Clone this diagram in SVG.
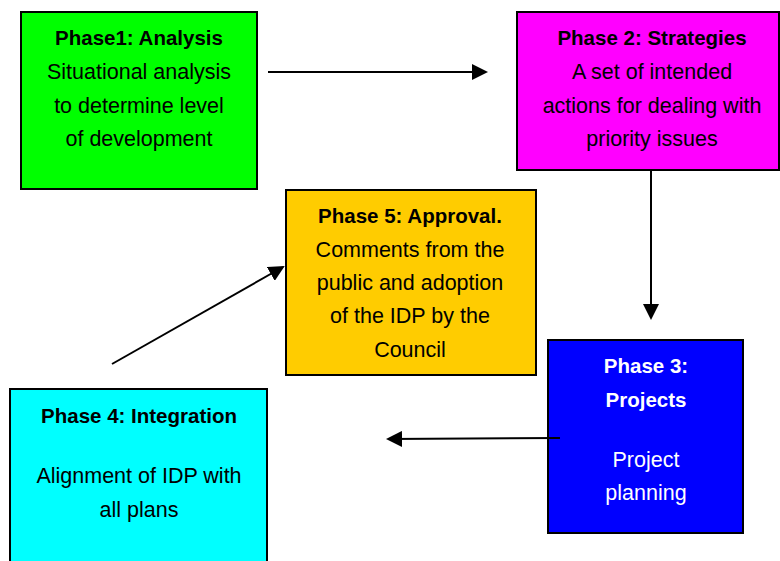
<svg xmlns="http://www.w3.org/2000/svg" width="780" height="561" viewBox="0 0 780 561">
<defs>
<style>
.box{stroke:#000;stroke-width:2}
text{font-family:"Liberation Sans",Arial,sans-serif;font-size:21.5px;text-anchor:middle;fill:#000}
.b{font-weight:bold;font-size:20.5px}
.w{fill:#fff}
.c{stroke:#000;stroke-width:2;fill:none;marker-end:url(#ah)}
</style>
<marker id="ah" markerWidth="8" markerHeight="8" refX="7" refY="4" orient="auto" markerUnits="strokeWidth">
<path d="M0,0 L8,4 L0,8 Z" fill="#000"/>
</marker>
</defs>
<rect width="780" height="561" fill="#fff"/>
<g id="phase1">
<rect class="box" x="21" y="12" width="236" height="177" fill="#00FF00"/>
<text class="b" x="139" y="45">Phase1: Analysis</text>
<text x="139" y="79">Situational analysis</text>
<text x="139" y="113">to determine level</text>
<text x="139" y="146">of development</text>
</g>
<g id="phase2">
<rect class="box" x="517" y="12" width="262" height="158" fill="#FF00FF"/>
<text class="b" x="652" y="45">Phase 2: Strategies</text>
<text x="652" y="79">A set of intended</text>
<text x="652" y="113">actions for dealing with</text>
<text x="652" y="146">priority issues</text>
</g>
<g id="phase5">
<rect class="box" x="286" y="190" width="250" height="185" fill="#FFCC00"/>
<text class="b" x="410" y="223">Phase 5: Approval.</text>
<text x="410" y="257">Comments from the</text>
<text x="410" y="290">public and adoption</text>
<text x="410" y="323">of the IDP by the</text>
<text x="410" y="357">Council</text>
</g>
<g id="phase3">
<rect class="box" x="548" y="340" width="195" height="193" fill="#0000FF"/>
<text class="b w" x="646" y="373">Phase 3:</text>
<text class="b w" x="646" y="407">Projects</text>
<text class="w" x="646" y="467">Project</text>
<text class="w" x="646" y="500">planning</text>
</g>
<g id="phase4">
<rect class="box" x="10" y="389" width="257" height="180" fill="#00FFFF"/>
<text class="b" x="139" y="423">Phase 4: Integration</text>
<text x="139" y="483">Alignment of IDP with</text>
<text x="139" y="517">all plans</text>
</g>
<g id="connectors">
<line class="c" x1="268" y1="72" x2="486" y2="72"/>
<line class="c" x1="651" y1="170" x2="651" y2="318"/>
<line class="c" x1="560" y1="438" x2="388" y2="439"/>
<line class="c" x1="112" y1="364" x2="283" y2="267"/>
</g>
</svg>
